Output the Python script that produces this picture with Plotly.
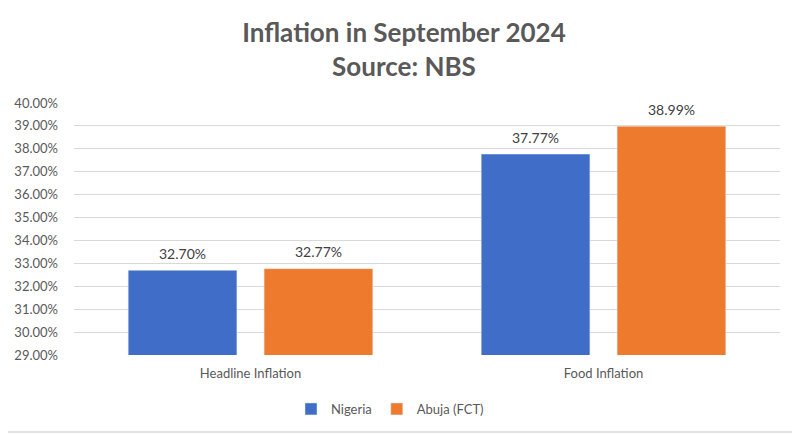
import plotly.graph_objects as go

# Inflation figures, September 2024 (NBS)
categories = ["Headline Inflation", "Food Inflation"]
nigeria = [0.3270, 0.3777]
abuja = [0.3277, 0.3899]
tick_vals = [0.29, 0.30, 0.31, 0.32, 0.33, 0.34, 0.35, 0.36, 0.37, 0.38, 0.39, 0.40]

# the page puts the figure 8px in from the top-left, so size it to fill the rest
W, H = 792, 426
ML, MR, MT, MB = 66, 20, 95, 79
pw, ph = W - ML - MR, H - MT - MB
BARGAP = 0.23
GROUPGAP = 0.2

fig = go.Figure()
fig.add_trace(go.Bar(
    x=categories, y=nigeria, name="Nigeria",
    marker=dict(color="#3f6dc8"),
))
fig.add_trace(go.Bar(
    x=categories, y=abuja, name="Abuja (FCT)",
    marker=dict(color="#ee7a2e"),
))

# data labels above each bar (offset half a bar slot left/right of the category)
slot = pw / len(categories) * (1 - BARGAP) / 2
for i, series in enumerate([nigeria, abuja]):
    for cat, val in zip(categories, series):
        fig.add_annotation(
            x=cat, y=val, text=f"{val:.2%}", showarrow=False,
            xshift=(i - 0.5) * slot, yshift=17, yanchor="middle",
            font=dict(color="#404040", size=14),
        )

# light border round the chart area
def px_x(p):
    return (p - ML) / pw

def px_y(p):
    return (H - MB - p) / ph

fig.add_shape(
    type="rect", xref="paper", yref="paper",
    x0=px_x(-6), x1=px_x(W - 1.5), y0=px_y(H - 2), y1=px_y(-7),
    line=dict(color="#d9d9d9", width=1.5),
)

fig.update_layout(
    width=W, height=H,
    margin=dict(l=ML, r=MR, t=MT, b=MB, autoexpand=False),
    paper_bgcolor="white", plot_bgcolor="white",
    font=dict(family="Lato", color="#595959", size=13),
    title=dict(
        text="<b>Inflation in September 2024<br>Source: NBS</b>",
        x=0.5, xanchor="center", y=1 - 34 / H, yanchor="middle",
        font=dict(size=26, color="#595959"),
    ),
    barmode="group", bargap=BARGAP, bargroupgap=GROUPGAP,
    showlegend=True,
    legend=dict(
        orientation="h", x=px_x(382), xanchor="center", y=px_y(401), yanchor="middle",
        font=dict(size=13, color="#595959"), itemwidth=30,
    ),
    xaxis=dict(showgrid=False, showline=False, ticks="", tickfont=dict(size=13),
               ticklabelstandoff=9, automargin=False),
    yaxis=dict(
        range=[0.29, 0.40], tickvals=tick_vals, tickformat=".2%",
        showgrid=True, gridcolor="#d9d9d9", gridwidth=1,
        zeroline=False, showline=False, ticks="", ticklen=0,
        tickfont=dict(size=13), ticklabelstandoff=15, automargin=False,
    ),
)

fig.write_html("out.html")
